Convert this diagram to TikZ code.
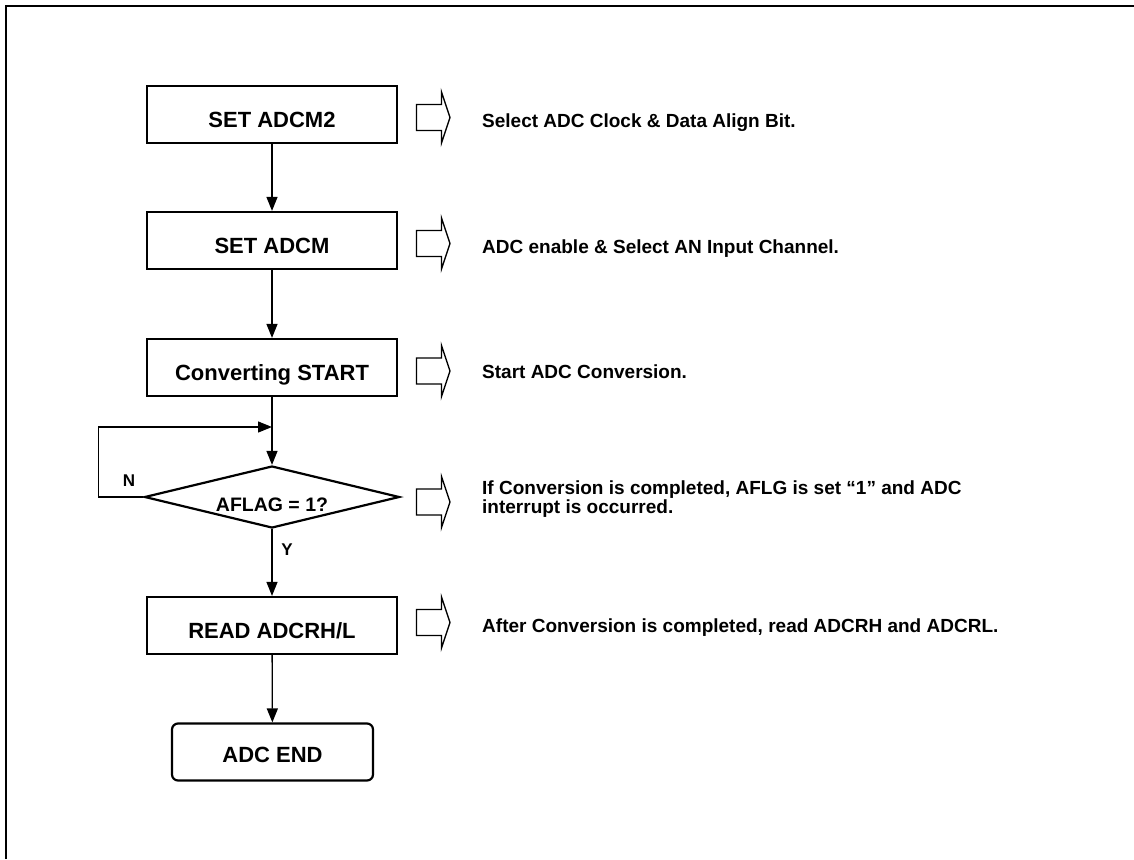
\documentclass[tikz,border=0pt]{standalone}
\usepackage{fontspec}
\setmainfont{Liberation Sans}
\usetikzlibrary{arrows.meta,shapes.geometric}
\tikzset{
  proc/.style={draw,line width=2.2pt,minimum width=250pt,minimum height=57pt,inner sep=0pt,
    font=\bfseries\fontsize{22}{24}\selectfont,text height=26.8pt,text depth=0pt},
  termbox/.style={proc,minimum width=201pt,minimum height=57pt,rounded corners=6pt,text height=21pt},
  decis/.style={draw,diamond,line width=2.2pt,minimum width=255pt,minimum height=62pt,inner sep=0pt},
  conn/.style={line width=1.3pt,-{Triangle[length=14pt,width=11pt]}},
  desc/.style={anchor=base west,inner sep=0pt,font=\bfseries\fontsize{19}{19}\selectfont,align=left},
  yn/.style={inner sep=0pt,font=\bfseries\fontsize{17}{17}\selectfont},
  harrow/.pic={\draw[line width=1.3pt] (0,-13)--(25,-13)--(25,-25.5)--(33.5,0)--(25,25.5)--(25,13)--(0,13)--cycle;}
}
\begin{document}
\begin{tikzpicture}[x=1pt,y=-1pt]
\useasboundingbox (0,0) rectangle (1134,859);
\draw[line width=1.8pt] (6,859) -- (6,6) -- (1134,6);

\node[proc] (b1) at (272,114.5) {SET ADCM2};
\node[proc] (b2) at (272,240.5) {SET ADCM};
\node[proc] (b3) at (272,367.5) {Converting START};
\node[decis] (dia) at (272,497) {};
\node[inner sep=0pt,font=\bfseries\fontsize{19.5}{20}\selectfont] (dt) at (272,505) {AFLAG = 1?};
\node[proc] (b4) at (272,625.5) {READ ADCRH/L};
\node[termbox] (b5) at (272.5,752) {ADC END};

\coordinate (lp) at (272,427);
\draw[conn] (b1) -- (b2);
\draw[conn] (b2) -- (b3);
\draw[conn] (b3) -- (dia.north);
\draw[conn] (dia.west) -- ++(-45,0) |- (lp);
\draw[conn] (dia.south) -- (b4);
\draw[conn] (b4) -- (b5);
\node[yn] (nl) at (129,480.5) {N};
\node[yn] (yl) at (287,550) {Y};

\pic at (416.5,117.5) {harrow};
\pic at (416.5,243.5) {harrow};
\pic at (416.5,371) {harrow};
\pic at (416.5,502) {harrow};
\pic at (416.5,622.5) {harrow};

\node[desc] (d1) at (482,127.3) {Select ADC Clock \& Data Align Bit.};
\node[desc] (d2) at (482,253.3) {ADC enable \& Select AN Input Channel.};
\node[desc] (d3) at (482,378.3) {Start ADC Conversion.};
\node[desc] (d4) at (482,494.3) {If Conversion is completed, AFLG is set “1” and ADC};
\node[desc] (d4b) at (482,513.3) {interrupt is occurred.};
\node[desc] (d5) at (482,632) {After Conversion is completed, read ADCRH and ADCRL.};
\end{tikzpicture}
\end{document}
